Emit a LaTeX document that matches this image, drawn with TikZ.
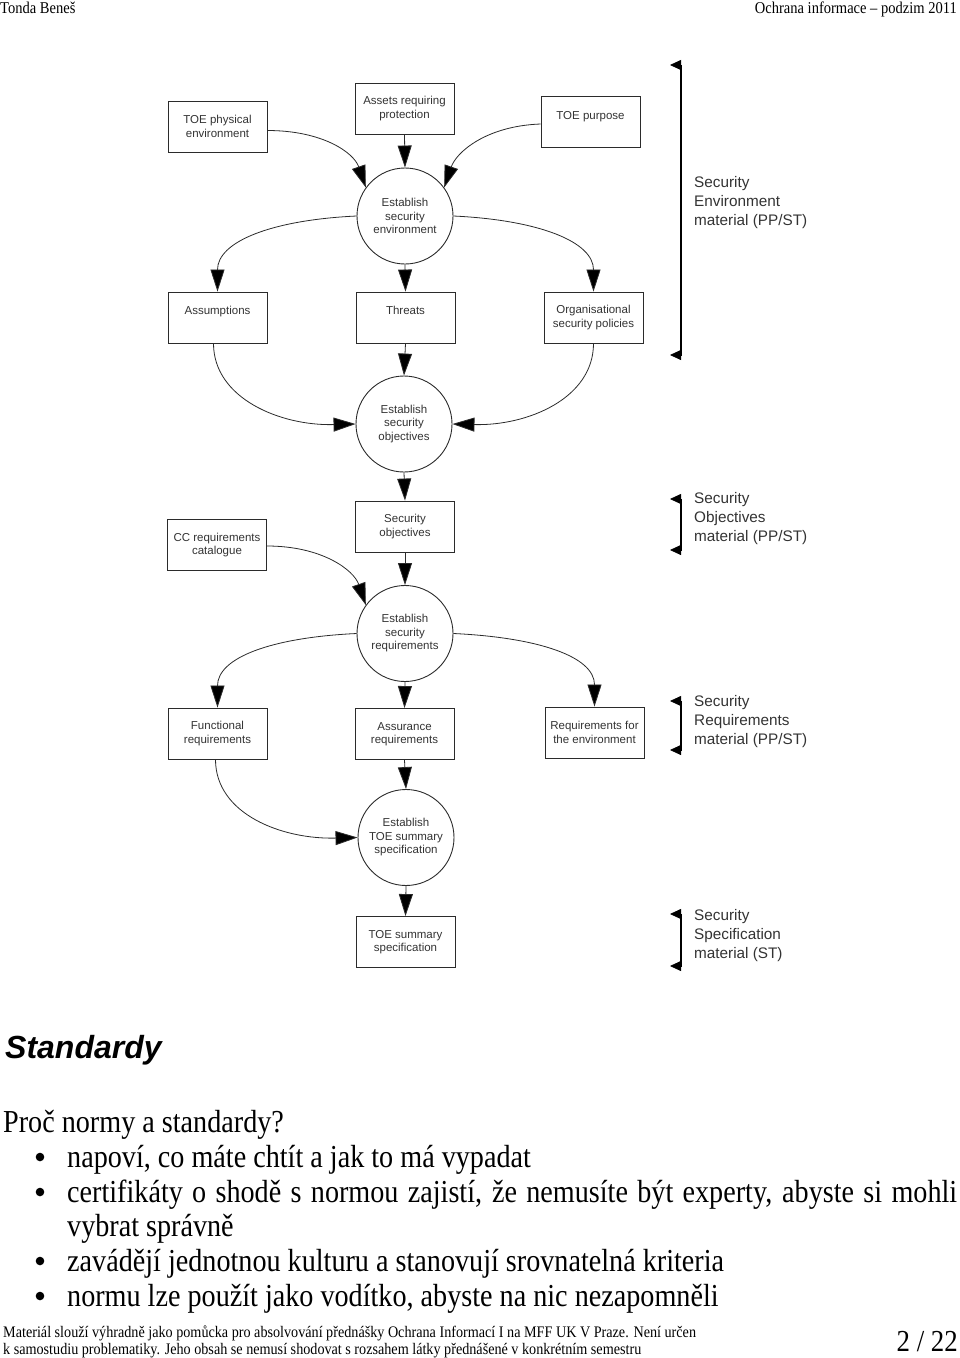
\documentclass[tikz,border=0pt]{standalone}
\usepackage{fontspec}
\setmainfont{Liberation Serif}
\newfontfamily\diafont{Liberation Sans}
\newfontfamily\bodyfont[FakeStretch=0.88]{Liberation Serif}
\newfontfamily\titlefont{Liberation Sans}
\usetikzlibrary{arrows.meta}
\definecolor{lnc}{HTML}{2B2B2B}
\definecolor{txc}{HTML}{333333}
\begin{document}
\begin{tikzpicture}[x=1pt,y=-1pt,
  box/.style={draw=lnc, line width=0.9pt, minimum width=99pt, minimum height=51pt, inner sep=0pt, align=center, text=txc, font=\diafont\fontsize{11.5}{13.5}\selectfont},
  circ/.style={circle, draw=lnc, line width=0.9pt, minimum size=96pt, inner sep=0pt, align=center, text=txc, font=\diafont\fontsize{11.5}{13.5}\selectfont},
  arr/.style={draw=lnc, line width=0.8pt, -{Triangle[length=22pt,width=14pt,fill=black]}},
  brk/.style={draw=black, line width=1.4pt},
  brtip/.style={draw=black, line width=0.8pt, -{Triangle[length=11pt,width=10pt]}},
  side/.style={anchor=west, align=left, inner sep=0pt, text=txc, font=\diafont\fontsize{15.3}{19}\selectfont},
  body/.style={anchor=base west, inner sep=0pt, font=\bodyfont\fontsize{32}{35}\selectfont},
  hdr/.style={inner sep=0pt, font=\bodyfont\fontsize{16.5}{18}\selectfont},
  foot/.style={anchor=base west, inner sep=0pt, font=\bodyfont\fontsize{16.1}{17}\selectfont},
]
\useasboundingbox (0,0) rectangle (960,1358);

% header
\node[hdr, anchor=base west] (h1) at (0,13) {Tonda Beneš};
\node[hdr, anchor=base east] (h2) at (957,13) {Ochrana informace – podzim 2011};

% diagram nodes
\node[box] (tpe) at (217.5,126.5) {TOE physical\\environment};
\node[box] (arp) at (404.5,108.5) {Assets requiring\\protection};
\node[box] (tpu) at (590.5,122) {TOE purpose\\\mbox{}};
\node[circ] (ese) at (405,216) {Establish\\security\\environment};
\node[box] (asm) at (217.5,317.5) {Assumptions\\\mbox{}};
\node[box] (thr) at (405.5,317.5) {Threats\\\mbox{}};
\node[box] (osp) at (593.5,317.5) {Organisational\\security policies};
\node[circ] (eso) at (404,424) {Establish\\security\\objectives};
\node[box] (sob) at (405,526.5) {Security\\objectives};
\node[box] (ccr) at (217,545) {CC requirements\\catalogue};
\node[circ] (esr) at (405,633.5) {Establish\\security\\requirements};
\node[box] (fre) at (217.5,733.5) {Functional\\requirements};
\node[box] (are) at (404.5,734) {Assurance\\requirements};
\node[box] (rfe) at (594.5,732.5) {Requirements for\\the environment};
\node[circ] (ets) at (406,837.5) {Establish\\TOE summary\\specification};
\node[box] (tss) at (405.5,942) {TOE summary\\specification};

% connectors
\draw[arr] ([yshift=-4pt]tpe.east) .. controls +(55,0) and +(-12,-35) .. (ese.144);
\draw[arr] (arp.south) -- (ese.north);
\draw[arr] ([yshift=-2pt]tpu.west) .. controls +(-55,2) and +(12,-35) .. (ese.36);
\draw[arr] (ese.west) .. controls +(-85,4) and +(0,-50) .. (asm.north);
\draw[arr] (ese.south) -- (thr.north);
\draw[arr] (ese.east) .. controls +(85,4) and +(0,-50) .. (osp.north);
\draw[arr] ([xshift=-4pt]asm.south) .. controls +(0,55) and +(-75,2) .. (eso.west);
\draw[arr] (thr.south) -- (eso.north);
\draw[arr] (osp.south) .. controls +(0,55) and +(75,2) .. (eso.east);
\draw[arr] (eso.south) -- (sob.north);
\draw[arr] (sob.south) -- (esr.north);
\draw[arr] ([yshift=-1pt]ccr.east) .. controls +(55,0) and +(-12,-35) .. (esr.144);
\draw[arr] (esr.west) .. controls +(-85,4) and +(0,-50) .. (fre.north);
\draw[arr] (esr.south) -- (are.north);
\draw[arr] (esr.east) .. controls +(85,4) and +(0,-50) .. (rfe.north);
\draw[arr] ([xshift=-2pt]fre.south) .. controls +(0,55) and +(-75,2) .. (ets.west);
\draw[arr] (are.south) -- (ets.north);
\draw[arr] (ets.south) -- (tss.north);

% brackets
\coordinate (b1t) at (681,65);  \coordinate (b1b) at (681,355);
\coordinate (b2t) at (681,499); \coordinate (b2b) at (681,550);
\coordinate (b3t) at (681,701); \coordinate (b3b) at (681,750);
\coordinate (b4t) at (681,914); \coordinate (b4b) at (681,966);
\foreach \t/\b in {b1t/b1b,b2t/b2b,b3t/b3b,b4t/b4b}{
  \draw[brk] (\t) -- (\b);
  \draw[brtip] (\t) -- ++(-11,0);
  \draw[brtip] (\b) -- ++(-11,0);
}
\node[side] (s1) at (694,203) {Security\\Environment\\material (PP/ST)};
\node[side] (s2) at (694,519) {Security\\Objectives\\material (PP/ST)};
\node[side] (s3) at (694,722) {Security\\Requirements\\material (PP/ST)};
\node[side] (s4) at (694,936) {Security\\Specification\\material (ST)};

% text section
\node[anchor=base west, inner sep=0pt, font=\titlefont\bfseries\itshape\fontsize{32}{36}\selectfont] (tit) at (5,1058) {Standardy};
\node[body] (q) at (3,1132) {Proč normy a standardy?};
\foreach \y in {1157,1192,1261,1296}{ \fill (40,\y) circle (4.3); }
\node[body] (l1) at (67,1167) {napoví, co máte chtít a jak to má vypadat};
\node[body] (l2) at (67,1202) {\makebox[890pt][s]{certifikáty o shodě s normou zajistí, že nemusíte být experty, abyste si mohli}};
\node[body] (l2b) at (67,1236) {vybrat správně};
\node[body] (l3) at (67,1271) {zavádějí jednotnou kulturu a stanovují srovnatelná kriteria};
\node[body] (l4) at (67,1306) {normu lze použít jako vodítko, abyste na nic nezapomněli};

% footer
\node[foot] (f1) at (3,1337) {Materiál slouží výhradně jako pomůcka pro absolvování přednášky Ochrana Informací I na MFF UK V Praze. Není určen};
\node[foot] (f2) at (3,1354) {k samostudiu problematiky. Jeho obsah se nemusí shodovat s rozsahem látky přednášené v konkrétním semestru};
\node[anchor=base east, inner sep=0pt, font=\bodyfont\fontsize{30.5}{32}\selectfont] (pg) at (958,1351) {2 / 22};
\end{tikzpicture}
\end{document}
